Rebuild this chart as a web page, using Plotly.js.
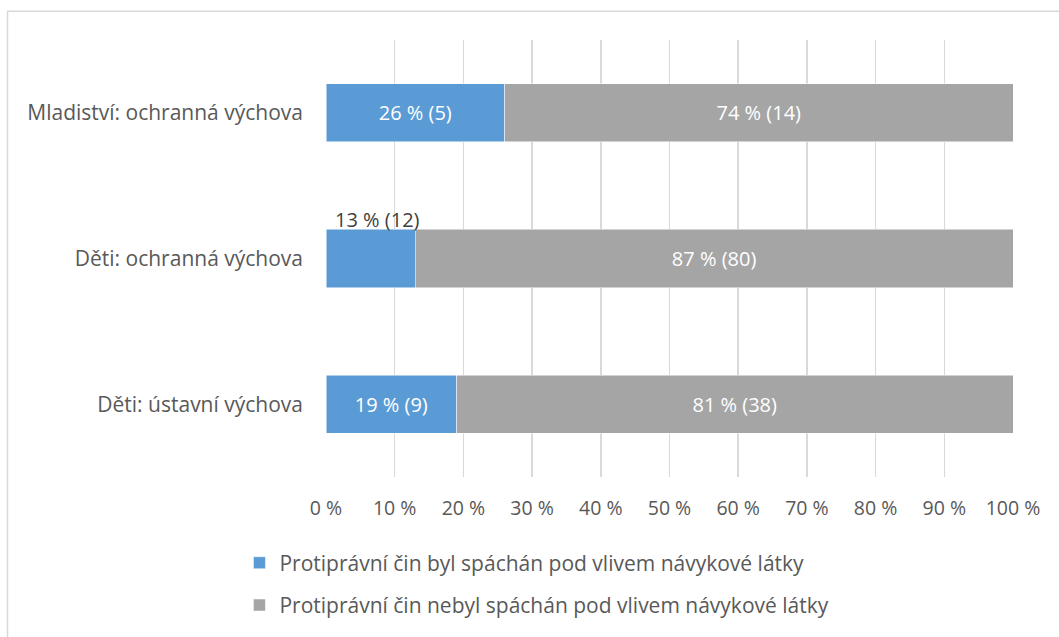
<!DOCTYPE html>
<html>
<head>
<meta charset="utf-8">
<script src="https://cdn.plot.ly/plotly-3.0.1.min.js"></script>
<style>html,body{margin:0;padding:0;background:#fff;}#chart{width:1059px;height:637px;}</style>
</head>
<body>
<div id="chart"></div>
<script>
var categories = ["Děti: ústavní výchova", "Děti: ochranná výchova", "Mladiství: ochranná výchova"];
var seriesNames = ["Protiprávní čin byl spáchán pod vlivem návykové látky", "Protiprávní čin nebyl spáchán pod vlivem návykové látky"];
var pctYes = [19, 13, 26];
var cntYes = [9, 12, 5];
var pctNo = [81, 87, 74];
var cntNo = [38, 80, 14];
var xTickVals = [0, 10, 20, 30, 40, 50, 60, 70, 80, 90, 100];
var xTickText = xTickVals.map(function(v){ return v + " %"; });

var FONT = "'Open Sans', sans-serif";
var TXT = "#595959";

function lbl(p, c){ return p + " % (" + c + ")"; }
// labels that don't fit inside their bar are drawn above it as annotations
var minInside = 15;
var yesText = pctYes.map(function(p,i){ return p >= minInside ? lbl(p, cntYes[i]) : ""; });
var noText = pctNo.map(function(p,i){ return lbl(p, cntNo[i]); });

var annotations = [];
pctYes.forEach(function(p,i){
  if (p < minInside) {
    annotations.push({x: 0, y: categories[i], xref: "x", yref: "y", text: lbl(p, cntYes[i]),
      showarrow: false, xanchor: "left", yanchor: "bottom", xshift: 7, yshift: 24,
      font: {family: FONT, size: 20, color: "#404040"}});
  }
});

var traces = [
  {type: "bar", orientation: "h", y: categories, x: pctYes, name: seriesNames[0],
   marker: {color: "#5B9BD5", line: {color: "#ffffff", width: 0.5}},
   text: yesText, textposition: "inside", insidetextanchor: "middle",
   textfont: {family: FONT, size: 20, color: "#ffffff"}, legendgroup: "a", hoverinfo: "x+y+name"},
  {type: "bar", orientation: "h", y: categories, x: pctNo, name: seriesNames[1],
   marker: {color: "#A5A5A5", line: {color: "#ffffff", width: 0.5}},
   text: noText, textposition: "inside", insidetextanchor: "middle",
   textfont: {family: FONT, size: 20, color: "#ffffff"}, legendgroup: "b", hoverinfo: "x+y+name"}
];

var layout = {
  width: 1059, height: 637,
  margin: {l: 326, r: 46, t: 40, b: 156},
  barmode: "stack", bargap: 0.6,
  paper_bgcolor: "#ffffff", plot_bgcolor: "#ffffff",
  font: {family: FONT, size: 20, color: TXT},
  xaxis: {range: [0, 100], tickvals: xTickVals, ticktext: xTickText, showgrid: true,
    gridcolor: "#D9D9D9", gridwidth: 1.5, zeroline: false, showline: false, ticks: "",
    ticklabelstandoff: 17, tickfont: {family: FONT, size: 19.5, color: TXT}, fixedrange: true},
  yaxis: {categoryorder: "array", categoryarray: categories, showgrid: false, zeroline: false,
    showline: false, ticks: "", ticklabelstandoff: 22, tickfont: {family: FONT, size: 21, color: TXT}, fixedrange: true},
  showlegend: true,
  legend: {orientation: "v", x: -0.126, xanchor: "left", y: -0.15, yanchor: "top",
    traceorder: "grouped", tracegroupgap: 12, font: {family: FONT, size: 21, color: TXT},
    bgcolor: "rgba(0,0,0,0)"},
  annotations: annotations,
  shapes: [{type: "rect", xref: "paper", yref: "paper", x0: -0.4636, x1: 1.075, y0: -0.40, y1: 1.0658,
    line: {color: "#D9D9D9", width: 1.5}, fillcolor: "rgba(0,0,0,0)", layer: "below"}]
};

Plotly.newPlot("chart", traces, layout, {displayModeBar: false, staticPlot: true});
</script>
</body>
</html>
